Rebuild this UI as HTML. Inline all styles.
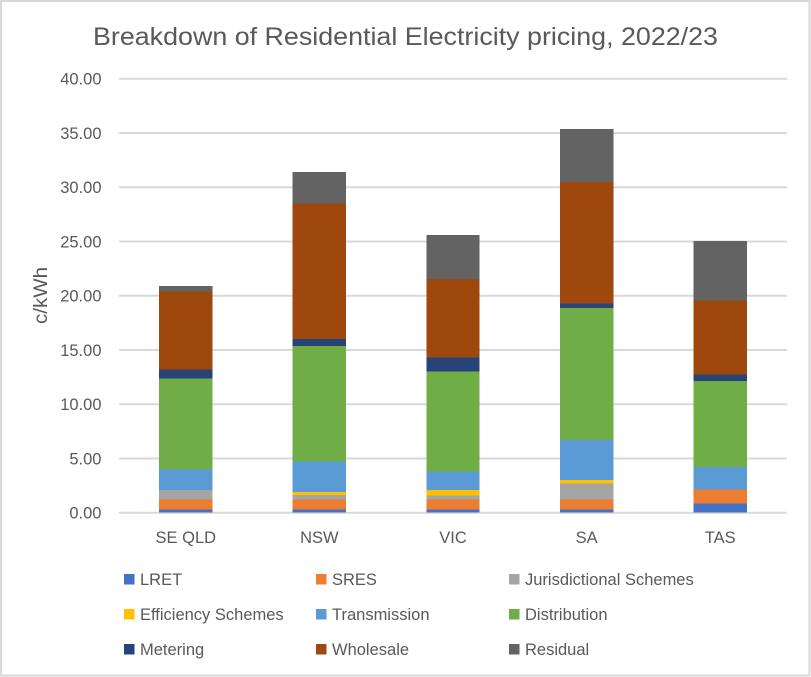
<!DOCTYPE html>
<html lang="en">
<head>
<meta charset="utf-8">
<title>Breakdown of Residential Electricity pricing, 2022/23</title>
<style>
html,body{margin:0;padding:0;background:#fff;}
svg{display:block;font-family:"Liberation Sans",sans-serif;}
</style>
</head>
<body>
<svg id="chart" xmlns="http://www.w3.org/2000/svg" width="811" height="677" viewBox="0 0 811 677">
  <rect x="1" y="1" width="808.5" height="674.5" fill="#fff" stroke="#d9d9d9" stroke-width="2"/>
  <text x="405.5" y="45" text-anchor="middle" font-size="25" fill="#595959" textLength="625" lengthAdjust="spacingAndGlyphs">Breakdown of Residential Electricity pricing, 2022/23</text>
  <text transform="translate(47,295.5) rotate(-90)" text-anchor="middle" font-size="19" fill="#595959" textLength="57" lengthAdjust="spacingAndGlyphs">c/kWh</text>
  <g id="grid"></g>
  <g id="bars"></g>
  <g id="yticks"></g>
  <g id="xticks"></g>
  <g id="legend"></g>
</svg>
<script>
const categories = ["SE QLD", "NSW", "VIC", "SA", "TAS"];
const yTickLabels = ["0.00", "5.00", "10.00", "15.00", "20.00", "25.00", "30.00", "35.00", "40.00"];
const seriesNames = ["LRET", "SRES", "Jurisdictional Schemes", "Efficiency Schemes", "Transmission", "Distribution", "Metering", "Wholesale", "Residual"];
const seriesColors = ["#4472c4", "#ed7d31", "#a5a5a5", "#ffc000", "#5b9bd5", "#70ad47", "#264478", "#9e480e", "#636363"];
const lret = [0.3, 0.3, 0.3, 0.3, 0.85];
const sres = [0.9, 0.9, 0.9, 0.9, 1.3];
const jurisdictional = [0.9, 0.45, 0.4, 1.5, 0];
const efficiency = [0, 0.25, 0.5, 0.3, 0];
const transmission = [1.9, 2.8, 1.7, 3.7, 2.05];
const distribution = [8.35, 10.65, 9.2, 12.15, 7.95];
const metering = [0.85, 0.65, 1.3, 0.45, 0.6];
const wholesale = [7.2, 12.5, 7.25, 11.2, 6.8];
const residual = [0.5, 2.9, 4.05, 4.85, 5.5];
const seriesValues = [lret, sres, jurisdictional, efficiency, transmission, distribution, metering, wholesale, residual];
const yMax = 40;

const NS = "http://www.w3.org/2000/svg";
const plotLeft = 119, plotRight = 787, plotTop = 78.7, plotBottom = 512.7;
const bandWidth = (plotRight - plotLeft) / categories.length;
const barWidth = bandWidth * 0.4;
function yScale(v) { return plotBottom - (v / yMax) * (plotBottom - plotTop); }
function xCenter(i) { return plotLeft + bandWidth * (i + 0.5); }
function make(tag, attrs, parent) {
  const el = document.createElementNS(NS, tag);
  for (const k in attrs) el.setAttribute(k, attrs[k]);
  parent.appendChild(el);
  return el;
}
function slug(s) { return s.toLowerCase().replace(/[^a-z0-9]+/g, "-"); }

const grid = document.getElementById("grid");
const yticks = document.getElementById("yticks");
yTickLabels.forEach(function (label) {
  const v = parseFloat(label);
  const line = make("line", {x1: plotLeft, x2: plotRight, y1: yScale(v), y2: yScale(v), stroke: "#d9d9d9", "stroke-width": 2}, grid);
  
  
  const t = make("text", {x: 101.5, y: yScale(v) + 6, "text-anchor": "end", "font-size": 16.5, fill: "#595959"}, yticks);
  
  
  t.textContent = label;
});

const bars = document.getElementById("bars");
categories.forEach(function (cat, i) {
  let cum = 0;
  seriesValues.forEach(function (vals, s) {
    const v = vals[i];
    const y0 = yScale(cum), y1 = yScale(cum + v);
    cum += v;
    if (v <= 0) return;
    const r = make("rect", {x: xCenter(i) - barWidth / 2, y: y1, width: barWidth, height: y0 - y1, fill: seriesColors[s], "shape-rendering": "crispEdges"}, bars);
    
    
  });
});

const xticks = document.getElementById("xticks");
categories.forEach(function (cat, i) {
  const t = make("text", {x: xCenter(i), y: 543, "text-anchor": "middle", "font-size": 16.5, fill: "#595959"}, xticks);
  
  
  t.textContent = cat;
});

const legendColumns = [124, 316, 509];
const legendRows = [579, 614, 649];
const legend = document.getElementById("legend");
seriesNames.forEach(function (name, i) {
  const cx = legendColumns[i % 3];
  const cy = legendRows[Math.floor(i / 3)];
  const g = make("g", {}, legend);
  
  
  const sw = make("rect", {x: cx, y: cy - 5, width: 10.5, height: 10.5, fill: seriesColors[i]}, g);
  
  
  const t = make("text", {x: cx + 16, y: cy + 6, "font-size": 16.5, fill: "#595959"}, g);
  
  
  t.textContent = name;
});
</script>
</body>
</html>
